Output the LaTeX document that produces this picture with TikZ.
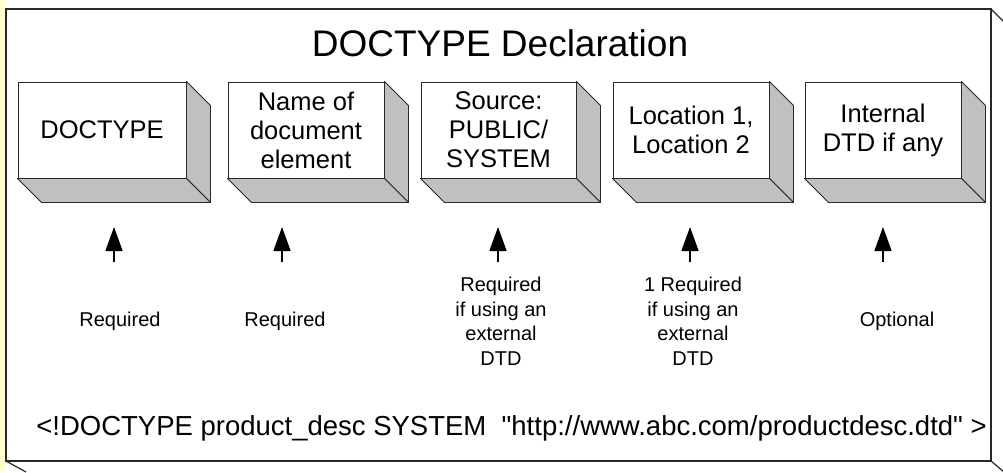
\documentclass[tikz,border=0pt]{standalone}
\usepackage{fontspec}
\setmainfont{Liberation Sans}
\usetikzlibrary{arrows.meta}
\definecolor{strip}{RGB}{255,255,204}
\definecolor{sideface}{RGB}{192,192,192}
\definecolor{edge}{RGB}{40,40,40}
\tikzset{
  blockface/.style={draw=edge, line width=0.9pt, fill=white, minimum height=96pt,
    inner sep=0pt, align=center, font=\fontsize{25.5}{29}\selectfont},
  shade/.style={draw=edge, line width=0.9pt, fill=sideface, line join=round},
  note/.style={align=center, font=\fontsize{20}{24.5}\selectfont},
  pointer/.style={line width=1.5pt, -{Triangle[length=24pt,width=17pt]}},
}
\begin{document}
\begin{tikzpicture}[x=1pt,y=-1pt]
\useasboundingbox (0,0) rectangle (1003,472);
\clip (0,0) rectangle (1003,472);
\fill[white] (0,0) rectangle (1003,472);
\fill[strip] (0,0) rectangle (6,472);

% outer frame with its receding edges
\draw[edge, line width=1.2pt] (6,9) rectangle (991,461);
\draw[edge, line width=1.2pt] (991,9) -- (1005,23);
\draw[edge, line width=1.2pt] (991,461) -- (1004,472);
\draw[edge, line width=1.2pt] (6,461) -- (26,472);

% title
\node[anchor=base, font=\fontsize{37}{40}\selectfont] (title) at (500,56) {DOCTYPE Declaration};

% blocks
\node[blockface, minimum width=168pt] (b1) at (102,130) {DOCTYPE};
\node[blockface, minimum width=156pt] (b2) at (306,130) {Name of\\document\\element};
\node[blockface, minimum width=155pt] (b3) at (498.5,130) {Source:\\PUBLIC/\\SYSTEM};
\node[blockface, minimum width=156pt] (b4) at (691,130) {Location 1,\\Location 2};
\node[blockface, minimum width=156pt] (b5) at (883,130) {Internal\\DTD if any};

\foreach \b in {b1,b2,b3,b4,b5}{
  \draw[shade] (\b.north east) -- ([shift={(24,24)}]\b.north east)
     -- ([shift={(24,24)}]\b.south east) -- (\b.south east) -- cycle;
  \draw[shade] (\b.south west) -- (\b.south east)
     -- ([shift={(24,24)}]\b.south east) -- ([shift={(24,24)}]\b.south west) -- cycle;
}

% arrows
\foreach \i/\x in {1/114,2/282,3/498,4/690,5/883}{
  \coordinate (s\i) at (\x,262);
  \coordinate (t\i) at (\x,227);
  \draw[pointer] (s\i) -- (t\i);
}

% notes under the arrows
\node[note] (n1) at (120,321) {Required};
\node[note] (n2) at (285,321) {Required};
\node[note] (n3) at (501,321) {Required\\if using an\\external\\DTD};
\node[note] (n4) at (693,321) {1 Required\\if using an\\external\\DTD};
\node[note] (n5) at (897,321) {Optional};

% example declaration
\node[anchor=base, font=\fontsize{27.5}{30}\selectfont] (decl) at (511.5,435)
  {<!DOCTYPE product\_desc SYSTEM\ \ \textquotedbl http://www.abc.com/productdesc.dtd\textquotedbl\ >};
\end{tikzpicture}
\end{document}
